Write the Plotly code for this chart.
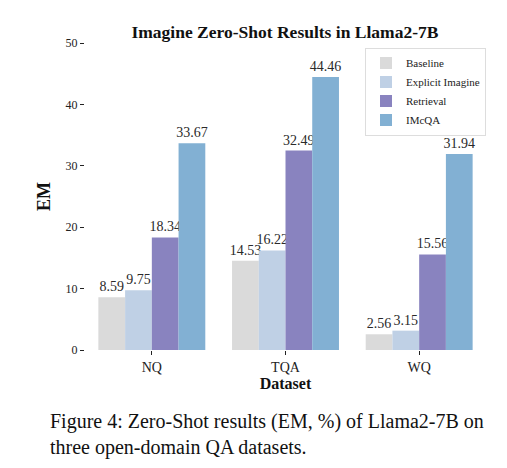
import plotly.graph_objects as go

datasets = ["NQ", "TQA", "WQ"]
methods = ["Baseline", "Explicit Imagine", "Retrieval", "IMcQA"]
baseline = [8.59, 14.53, 2.56]
explicit_imagine = [9.75, 16.22, 3.15]
retrieval = [18.34, 32.49, 15.56]
imcqa = [33.67, 44.46, 31.94]
series = [baseline, explicit_imagine, retrieval, imcqa]
colors = ["#dadada", "#bfd0e5", "#8983bf", "#82b0d3"]
y_ticks = [0, 10, 20, 30, 40, 50]

serif = "Liberation Serif"

fig = go.Figure()
for name, vals, col in zip(methods, series, colors):
    fig.add_trace(go.Bar(
        x=datasets, y=vals, name=name, marker_color=col, marker_line_width=0,
        text=[f"{v:.2f}" for v in vals], textposition="outside",
        constraintext="none",
        textfont=dict(family=serif, size=14, color="#2a2a2a"),
        cliponaxis=False,
    ))

# page body has an 8px default margin, so the figure is 8px smaller
fig.update_layout(
    width=499, height=460,
    margin=dict(l=77, r=21, t=35, b=118, autoexpand=False),
    paper_bgcolor="white", plot_bgcolor="white",
    barmode="group", bargap=0.2, bargroupgap=0,
    font=dict(family=serif, size=12, color="#222"),
    title=dict(text="<b>Imagine Zero-Shot Results in Llama2-7B</b>",
               x=0.555, xanchor="center", y=0.948, yanchor="middle",
               font=dict(family=serif, size=17.5, color="#111")),
    legend=dict(x=1.0, xanchor="right", y=0.985, yanchor="top",
                bgcolor="rgba(255,255,255,0.9)", bordercolor="#dddddd", borderwidth=1,
                font=dict(family=serif, size=11, color="#222"),
                tracegroupgap=0, itemwidth=30),
    showlegend=True,
)
fig.update_yaxes(range=[0, 50], tickvals=y_ticks, showgrid=False, zeroline=False,
                 showline=False, ticks="outside", ticklen=4, tickcolor="#222",
                 automargin=False,
                 tickfont=dict(family=serif, size=12, color="#222"),
                 title=dict(text="<b>EM</b>", font=dict(family=serif, size=18, color="#111"),
                            standoff=10))
fig.update_xaxes(showgrid=False, zeroline=False, showline=False, ticks="outside",
                 ticklen=4, tickcolor="#222", automargin=False,
                 tickfont=dict(family=serif, size=14, color="#222"),
                 title=dict(text="<b>Dataset</b>", font=dict(family=serif, size=16, color="#111"),
                            standoff=2))

fig.add_annotation(xref="paper", yref="paper", x=-0.092, y=-0.2345, xanchor="left", yanchor="middle",
                   text="Figure 4: Zero-Shot results (EM, %) of Llama2-7B on",
                   showarrow=False, font=dict(family=serif, size=20, color="#111"))
fig.add_annotation(xref="paper", yref="paper", x=-0.092, y=-0.316, xanchor="left", yanchor="middle",
                   text="three open-domain QA datasets.",
                   showarrow=False, font=dict(family=serif, size=20, color="#111"))

fig.write_html("out.html")
